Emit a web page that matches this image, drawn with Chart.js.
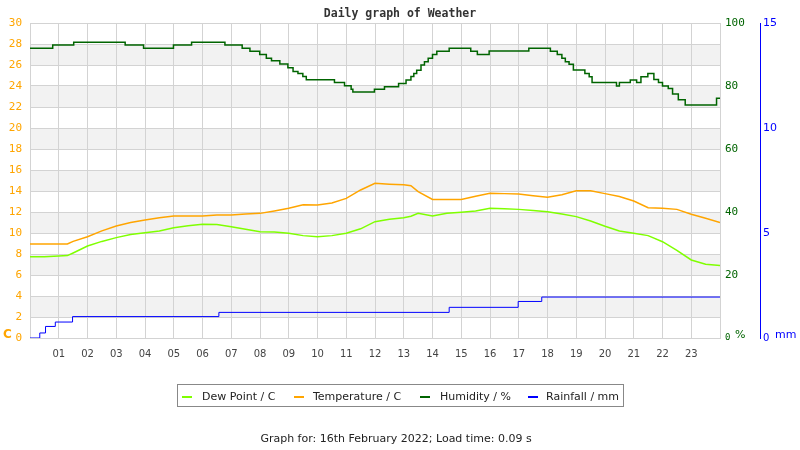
<!DOCTYPE html>
<html><head><meta charset="utf-8">
<script src="https://cdn.jsdelivr.net/npm/chart.js@4"></script>
<style>
body{margin:0;width:800px;height:450px;position:relative;background:#fff;overflow:hidden;font-family:"DejaVu Sans",sans-serif}
#wrap{position:absolute;left:0;top:0;width:800px;height:450px}
.t{position:absolute;white-space:nowrap;line-height:1}
.mk{position:absolute;width:10px;height:2px}
#legend{position:absolute;left:177px;top:384px;width:445px;height:21px;border:1px solid #888;box-sizing:content-box}
</style></head><body>
<div id="wrap"><canvas id="c" width="800" height="450"></canvas></div>
<div class="t" style="left:0;width:800px;text-align:center;top:6px;font:bold 11.5px 'DejaVu Sans Mono',monospace;color:#333">Daily graph of Weather</div>
<div class="t" style="left:3px;top:327px;font:bold 12px 'DejaVu Sans';color:#ffa500">C</div>
<div class="t" style="left:735px;top:328px;font:11px 'DejaVu Sans';color:#006400">%</div>
<div class="t" style="left:775px;top:328px;font:11px 'DejaVu Sans';color:#0000ff">mm</div>
<div id="legend"></div>
<div class="t" style="left:0;width:792px;text-align:center;top:432px;font:11px 'DejaVu Sans';color:#222">Graph for: 16th February 2022; Load time: 0.09 s</div>
<script>
// ---- data ----
const tdTimes = [0,0.5,1,1.3,1.5,2,2.5,3,3.5,4,4.5,5,5.5,6,6.5,7,7.5,8,8.5,9,9.5,10,10.5,11,11.5,12,12.5,13,13.25,13.5,14,14.5,15,15.5,16,16.5,17,17.5,18,18.5,19,19.5,20,20.5,21,21.5,22,22.5,23,23.5,24];
const temperature = [8.95,8.95,8.95,8.95,9.2,9.65,10.2,10.67,11.0,11.24,11.45,11.62,11.62,11.62,11.71,11.71,11.8,11.87,12.1,12.35,12.7,12.67,12.85,13.3,14.1,14.73,14.65,14.6,14.5,13.94,13.2,13.2,13.2,13.5,13.78,13.75,13.71,13.55,13.4,13.65,14.03,14.03,13.75,13.48,13.05,12.4,12.35,12.25,11.78,11.4,11.0];
const dewPoint = [7.75,7.75,7.81,7.85,8.1,8.76,9.2,9.56,9.85,10.03,10.2,10.5,10.7,10.83,10.8,10.6,10.35,10.13,10.1,9.97,9.75,9.65,9.75,9.97,10.4,11.08,11.3,11.45,11.6,11.87,11.62,11.87,11.97,12.1,12.35,12.3,12.25,12.15,12.03,11.8,11.56,11.15,10.65,10.2,9.97,9.75,9.17,8.35,7.43,7.02,6.9];
const humTimes = [0,0.79,1.52,3.31,3.95,4.99,5.62,6.78,7.38,7.65,7.99,8.22,8.4,8.69,8.97,9.15,9.32,9.49,9.61,10.59,10.94,11.17,11.23,11.98,12.33,12.82,13.08,13.25,13.35,13.45,13.6,13.72,13.85,14.0,14.15,14.58,15.33,15.56,15.97,17.35,18.1,18.34,18.5,18.62,18.75,18.9,19.3,19.45,19.55,20.4,20.5,20.88,21.1,21.25,21.49,21.7,21.86,22.0,22.2,22.35,22.55,22.79,23.88,24];
const humidity = [92.0,93.0,93.9,93.0,92.0,93.0,93.9,93.0,92.0,91.0,90.0,88.8,88.0,87.0,85.8,84.6,84.0,83.0,82.0,81.1,80.1,79.0,78.1,79.0,79.8,80.8,81.9,83.0,84.0,85.0,86.7,87.7,88.8,90.0,91.0,92.0,91.0,90.0,91.1,92.0,91.0,90.0,88.8,87.7,86.9,85.1,84.0,82.9,81.1,80.0,81.1,81.9,81.1,82.9,84.0,82.1,81.1,80.0,79.2,77.5,75.6,74.0,76.1,76.1];
const rainTimes = [0,0.34,0.54,0.88,1.48,6.57,14.58,16.98,17.8,24];
const rainfall = [0,0.24,0.55,0.76,1.02,1.22,1.46,1.74,1.95,1.95];
const hourLabels = ["01","02","03","04","05","06","07","08","09","10","11","12","13","14","15","16","17","18","19","20","21","22","23"];
const seriesNames = ["Dew Point / C","Temperature / C","Humidity / %","Rainfall / mm"];
const seriesColors = ["#7fff00","#ffa500","#006400","#0000ff"];

const pts = (xs, ys) => xs.map((x, i) => ({x, y: ys[i]}));

// legend (HTML text)
const lg = document.getElementById('legend');
const mkX = [4, 116, 242, 350];
const txX = [24, 135, 262, 368];
seriesNames.forEach((n, i) => {
  const m = document.createElement('div'); m.className = 'mk';
  m.style.left = mkX[i] + 'px'; m.style.top = '11px'; m.style.background = seriesColors[i];
  lg.appendChild(m);
  const t = document.createElement('div'); t.className = 't';
  t.style.left = txX[i] + 'px'; t.style.top = '5px'; t.style.font = "11px 'DejaVu Sans'"; t.style.color = '#222';
  t.textContent = n; lg.appendChild(t);
});

const bands = {
  id: 'bands',
  beforeDraw(chart) {
    const {ctx, chartArea: a, scales: {yT}} = chart;
    ctx.save(); ctx.fillStyle = '#f2f2f2';
    for (let v = 2; v < 30; v += 4) {
      const y1 = yT.getPixelForValue(v + 2), y2 = yT.getPixelForValue(v);
      ctx.fillRect(a.left, y1, a.right - a.left, y2 - y1);
    }
    ctx.restore();
  }
};

Chart.defaults.font.family = "'DejaVu Sans', sans-serif";
new Chart(document.getElementById('c'), {
  type: 'line',
  data: {
    datasets: [
      {label: seriesNames[3], data: pts(rainTimes, rainfall), yAxisID: 'yR', borderColor: seriesColors[3], borderWidth: 1, stepped: true, pointRadius: 0},
      {label: seriesNames[2], data: pts(humTimes, humidity), yAxisID: 'yH', borderColor: seriesColors[2], borderWidth: 1.5, stepped: true, pointRadius: 0},
      {label: seriesNames[1], data: pts(tdTimes, temperature), yAxisID: 'yT', borderColor: seriesColors[1], borderWidth: 1.5, pointRadius: 0, tension: 0},
      {label: seriesNames[0], data: pts(tdTimes, dewPoint), yAxisID: 'yT', borderColor: seriesColors[0], borderWidth: 1.5, pointRadius: 0, tension: 0}
    ]
  },
  plugins: [bands],
  options: {
    responsive: false, animation: false,
    layout: {padding: {top: 23, left: 0, right: 0, bottom: 0}},
    plugins: {legend: {display: false}, tooltip: {enabled: false}, title: {display: false}},
    scales: {
      x: {
        type: 'linear', min: 0, max: 24, position: 'bottom',
        afterFit: s => { s.height = 112; },
        grid: {color: '#d3d3d3', drawTicks: false},
        border: {color: '#d3d3d3'},
        ticks: {stepSize: 1, autoSkip: false, maxRotation: 0, padding: 10, color: '#444', font: {size: 10},
          callback: v => (v >= 1 && v <= 23) ? hourLabels[v - 1] : ''}
      },
      yT: {
        type: 'linear', position: 'left', min: 0, max: 30,
        afterFit: s => { s.width = 30; },
        grid: {color: '#d3d3d3', drawTicks: false},
        border: {color: '#d3d3d3'},
        ticks: {stepSize: 2, padding: 8, color: '#ffa500', font: {family: "'DejaVu Sans Mono', monospace", size: 11}}
      },
      yH: {
        type: 'linear', position: 'right', min: 0, max: 100,
        afterFit: s => { s.width = 40; },
        grid: {display: false, drawTicks: false},
        border: {display: false},
        ticks: {stepSize: 20, padding: 5, color: '#006400',
          font: c => ({family: "'DejaVu Sans Mono', monospace", size: c.tick && c.tick.value === 0 ? 9 : 11})}
      },
      yR: {
        type: 'linear', position: 'right', min: 0, max: 15,
        afterFit: s => { s.width = 40; },
        grid: {display: false, drawTicks: false},
        border: {display: true, color: '#0000ff', width: 1},
        ticks: {stepSize: 5, padding: 3, color: '#0000ff',
          font: c => ({size: c.tick && c.tick.value === 0 ? 10 : 11})}
      }
    }
  }
});
</script>
</body></html>
